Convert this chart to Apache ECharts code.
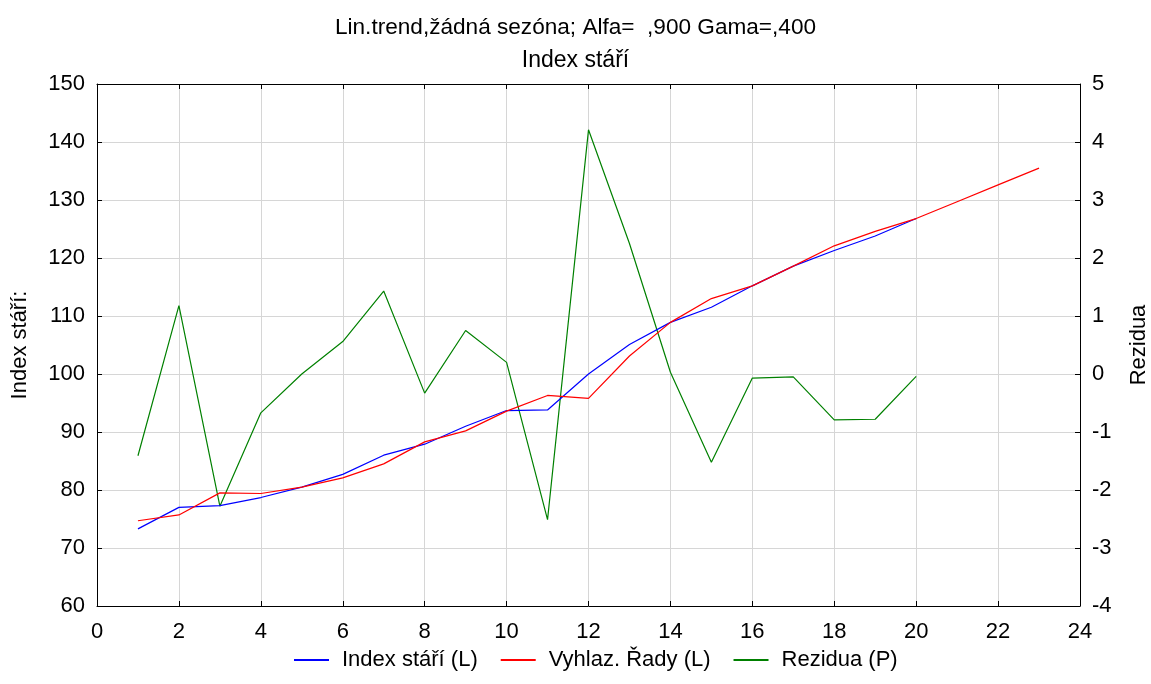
<!DOCTYPE html>
<html><head><meta charset="utf-8">
<script src="https://cdn.jsdelivr.net/npm/echarts@6/dist/echarts.min.js"></script>
<style>html,body{margin:0;padding:0;background:#fff}#c{width:1151px;height:684px}</style>
</head><body><div id="c"></div>
<script>
const xIndex = [1,2,3,4,5,6,7,8,9,10,11,12,13,14,15,16,17,18,19,20];
const indexStari = [73.3,77.0,77.3,78.7,80.5,82.7,86.0,87.9,91.0,93.7,93.8,100.0,105.1,108.9,111.5,115.2,118.6,121.3,123.8,126.8];
const xSmooth = [1,2,3,4,5,6,7,8,9,10,11,12,13,14,15,16,17,18,19,20,21,22,23];
const vyhlazRady = [74.7,75.7,79.5,79.4,80.5,82.1,84.5,88.3,90.2,93.6,96.3,95.8,103.1,108.9,113.0,115.2,118.6,122.1,124.6,126.8,129.7,132.6,135.5];
const rezidua = [-1.41,1.18,-2.28,-0.67,0.0,0.56,1.43,-0.33,0.75,0.20,-2.51,4.21,2.25,0.03,-1.52,-0.07,-0.05,-0.79,-0.78,-0.04];
const titleLine1 = 'Lin.trend,žádná sezóna; Alfa=  ,900 Gama=,400';
const titleLine2 = 'Index stáří';

const F = 'Liberation Sans, Arial, sans-serif';
const FS = 22;
const pair = (xs, ys) => xs.map((x, i) => [x, ys[i]]);
const chart = echarts.init(document.getElementById('c'));
const axisLine = {show: true, onZero: false, lineStyle: {color: '#000', width: 1}};
const tick = {show: true, inside: true, length: 5, lineStyle: {color: '#000'}};
chart.setOption({
  animation: false,
  textStyle: {fontFamily: F},
  title: [
    {text: titleLine1, left: 'center', top: 11, textStyle: {fontFamily: F, fontSize: 22.6, fontWeight: 'normal', color: '#000'}},
    {text: titleLine2, left: 'center', top: 44, textStyle: {fontFamily: F, fontSize: 23, fontWeight: 'normal', color: '#000'}}
  ],
  legend: {
    bottom: 8, left: 289, itemWidth: 35, itemHeight: 2, itemGap: 23,
    icon: 'rect',
    textStyle: {fontFamily: F, fontSize: 22, color: '#000', padding: [0, 0, 0, 8]},
    data: ['Index stáří (L)', 'Vyhlaz. Řady (L)', 'Rezidua (P)']
  },
  grid: {left: 97, right: 71, top: 84, bottom: 78, outerBoundsMode: 'none', containLabel: false},
  xAxis: [
    {type: 'value', min: 0, max: 24, interval: 2, position: 'bottom',
     axisLine: axisLine, axisTick: tick,
     axisLabel: {fontFamily: F, fontSize: FS, color: '#000', margin: 15},
     splitLine: {show: true, lineStyle: {color: '#d6d6d6', width: 1}}},
    {type: 'value', min: 0, max: 24, interval: 2, position: 'top',
     axisLine: axisLine, axisTick: tick,
     axisLabel: {show: false}, splitLine: {show: false}}
  ],
  yAxis: [
    {type: 'value', min: 60, max: 150, interval: 10, position: 'left',
     name: 'Index stáří:', nameLocation: 'middle', nameGap: 66, nameRotate: 90,
     nameTextStyle: {fontFamily: F, fontSize: FS, color: '#000'},
     axisLine: axisLine, axisTick: tick,
     axisLabel: {fontFamily: F, fontSize: FS, color: '#000', margin: 12},
     splitLine: {show: true, lineStyle: {color: '#d6d6d6', width: 1}}},
    {type: 'value', min: -4, max: 5, interval: 1, position: 'right',
     name: 'Rezidua', nameLocation: 'middle', nameGap: 48, nameRotate: 90,
     nameTextStyle: {fontFamily: F, fontSize: FS, color: '#000'},
     axisLine: axisLine, axisTick: tick,
     axisLabel: {fontFamily: F, fontSize: FS, color: '#000', margin: 12},
     splitLine: {show: false}}
  ],
  series: [
    {name: 'Index stáří (L)', type: 'line', xAxisIndex: 0, yAxisIndex: 0, data: pair(xIndex, indexStari),
     showSymbol: false, symbol: 'none', lineStyle: {color: '#0000ff', width: 1.2}, itemStyle: {color: '#0000ff'}, z: 3},
    {name: 'Vyhlaz. Řady (L)', type: 'line', xAxisIndex: 0, yAxisIndex: 0, data: pair(xSmooth, vyhlazRady),
     showSymbol: false, symbol: 'none', lineStyle: {color: '#ff0000', width: 1.2}, itemStyle: {color: '#ff0000'}, z: 4},
    {name: 'Rezidua (P)', type: 'line', xAxisIndex: 0, yAxisIndex: 1, data: pair(xIndex, rezidua),
     showSymbol: false, symbol: 'none', lineStyle: {color: '#008000', width: 1.2}, itemStyle: {color: '#008000'}, z: 2}
  ]
});
</script></body></html>
